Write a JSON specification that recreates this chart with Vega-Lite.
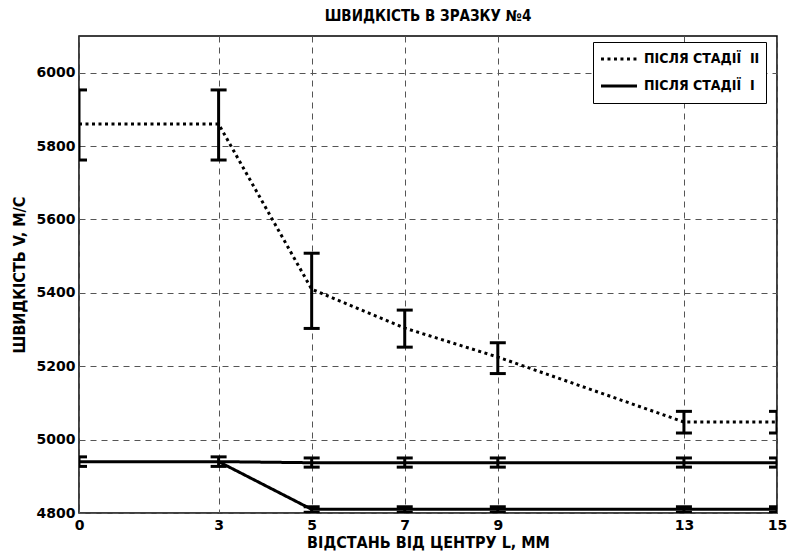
{
  "$schema": "https://vega.github.io/schema/vega-lite/v6.json",
  "width": 698,
  "height": 477,
  "autosize": {"type": "none"},
  "padding": {"left": 79, "top": 36, "right": 12, "bottom": 43},
  "background": "white",
  "title": {
    "text": "ШВИДКІСТЬ В ЗРАЗКУ №4",
    "font": "DejaVu Sans Condensed",
    "fontSize": 15,
    "fontWeight": "bold",
    "color": "black",
    "offset": 12,
    "anchor": "middle"
  },
  "config": {
    "view": {"stroke": "black", "strokeWidth": 1.5},
    "axis": {
      "labelFont": "DejaVu Sans",
      "labelFontSize": 14,
      "labelFontWeight": "bold",
      "labelColor": "black",
      "titleFont": "DejaVu Sans Condensed",
      "titleFontSize": 16,
      "titleFontWeight": "bold",
      "titleColor": "black",
      "gridColor": "#555555",
      "gridDash": [6, 5],
      "gridWidth": 1,
      "gridOpacity": 1,
      "ticks": false,
      "domain": false
    },
    "legend": {
      "labelFont": "DejaVu Sans Condensed",
      "labelFontSize": 14,
      "labelFontWeight": "bold",
      "labelColor": "black",
      "symbolType": "stroke",
      "symbolStrokeWidth": 3,
      "symbolStrokeColor": "black",
      "symbolSize": 1300,
      "clipHeight": 22,
      "padding": 6,
      "rowPadding": 5,
      "labelOffset": 5,
      "strokeColor": "black",
      "fillColor": "white",
      "cornerRadius": 0
    }
  },
  "datasets": {
    "lines": [
      {"x": 0, "v": 5860, "grp": "A", "series": "ПІСЛЯ СТАДІЇ\u00a0 II"},
      {"x": 3, "v": 5860, "grp": "A", "series": "ПІСЛЯ СТАДІЇ\u00a0 II"},
      {"x": 5, "v": 5410, "grp": "A", "series": "ПІСЛЯ СТАДІЇ\u00a0 II"},
      {"x": 7, "v": 5304, "grp": "A", "series": "ПІСЛЯ СТАДІЇ\u00a0 II"},
      {"x": 9, "v": 5225, "grp": "A", "series": "ПІСЛЯ СТАДІЇ\u00a0 II"},
      {"x": 13, "v": 5048, "grp": "A", "series": "ПІСЛЯ СТАДІЇ\u00a0 II"},
      {"x": 15, "v": 5048, "grp": "A", "series": "ПІСЛЯ СТАДІЇ\u00a0 II"},
      {"x": 0, "v": 4940, "grp": "B", "series": "ПІСЛЯ СТАДІЇ\u00a0 I"},
      {"x": 3, "v": 4940, "grp": "B", "series": "ПІСЛЯ СТАДІЇ\u00a0 I"},
      {"x": 5, "v": 4937, "grp": "B", "series": "ПІСЛЯ СТАДІЇ\u00a0 I"},
      {"x": 7, "v": 4937, "grp": "B", "series": "ПІСЛЯ СТАДІЇ\u00a0 I"},
      {"x": 9, "v": 4937, "grp": "B", "series": "ПІСЛЯ СТАДІЇ\u00a0 I"},
      {"x": 13, "v": 4937, "grp": "B", "series": "ПІСЛЯ СТАДІЇ\u00a0 I"},
      {"x": 15, "v": 4937, "grp": "B", "series": "ПІСЛЯ СТАДІЇ\u00a0 I"},
      {"x": 3, "v": 4940, "grp": "C", "series": "ПІСЛЯ СТАДІЇ\u00a0 I"},
      {"x": 5, "v": 4810, "grp": "C", "series": "ПІСЛЯ СТАДІЇ\u00a0 I"},
      {"x": 7, "v": 4810, "grp": "C", "series": "ПІСЛЯ СТАДІЇ\u00a0 I"},
      {"x": 9, "v": 4810, "grp": "C", "series": "ПІСЛЯ СТАДІЇ\u00a0 I"},
      {"x": 13, "v": 4810, "grp": "C", "series": "ПІСЛЯ СТАДІЇ\u00a0 I"},
      {"x": 15, "v": 4810, "grp": "C", "series": "ПІСЛЯ СТАДІЇ\u00a0 I"}
    ],
    "err": [
      {"x": 0, "lo": 5762, "hi": 5953},
      {"x": 3, "lo": 5762, "hi": 5953},
      {"x": 5, "lo": 5303, "hi": 5508},
      {"x": 7, "lo": 5252, "hi": 5353},
      {"x": 9, "lo": 5180, "hi": 5264},
      {"x": 13, "lo": 5018, "hi": 5077},
      {"x": 15, "lo": 5018, "hi": 5077},
      {"x": 0, "lo": 4927, "hi": 4953},
      {"x": 3, "lo": 4927, "hi": 4953},
      {"x": 5, "lo": 4925, "hi": 4950},
      {"x": 7, "lo": 4925, "hi": 4950},
      {"x": 9, "lo": 4925, "hi": 4950},
      {"x": 13, "lo": 4925, "hi": 4950},
      {"x": 15, "lo": 4925, "hi": 4950},
      {"x": 5, "lo": 4802, "hi": 4817},
      {"x": 7, "lo": 4802, "hi": 4817},
      {"x": 9, "lo": 4802, "hi": 4817},
      {"x": 13, "lo": 4802, "hi": 4817},
      {"x": 15, "lo": 4802, "hi": 4817}
    ]
  },
  "encoding": {
    "x": {
      "field": "x",
      "type": "quantitative",
      "scale": {"domain": [0, 15], "nice": false, "zero": false},
      "axis": {
        "values": [0, 3, 5, 7, 9, 13, 15],
        "title": "ВІДСТАНЬ ВІД ЦЕНТРУ L, ММ",
        "labelPadding": 5,
        "titlePadding": 2,
        "labelFlush": false
      }
    }
  },
  "layer": [
    {
      "data": {"name": "lines"},
      "mark": {"type": "line", "color": "black", "strokeWidth": 3, "clip": true},
      "encoding": {
        "y": {
          "field": "v",
          "type": "quantitative",
          "scale": {"domain": [4800, 6100], "nice": false, "zero": false},
          "axis": {
            "values": [4800, 5000, 5200, 5400, 5600, 5800, 6000],
            "format": "d",
            "title": "ШВИДКІСТЬ V, М/С",
            "labelPadding": 4,
            "titlePadding": 9
          }
        },
        "detail": {"field": "grp"},
        "strokeDash": {
          "field": "series",
          "type": "nominal",
          "scale": {
            "domain": ["ПІСЛЯ СТАДІЇ\u00a0 II", "ПІСЛЯ СТАДІЇ\u00a0 I"],
            "range": [[3, 3.5], [1, 0]]
          },
          "legend": {"orient": "none", "legendX": 514, "legendY": 6, "title": null}
        }
      }
    },
    {
      "data": {"name": "err"},
      "mark": {"type": "rule", "color": "black", "strokeWidth": 3, "clip": true},
      "encoding": {
        "y": {"field": "lo", "type": "quantitative"},
        "y2": {"field": "hi"}
      }
    },
    {
      "data": {"name": "err"},
      "mark": {"type": "tick", "orient": "horizontal", "color": "black", "size": 16, "thickness": 3, "opacity": 1, "clip": true},
      "encoding": {
        "y": {"field": "lo", "type": "quantitative"}
      }
    },
    {
      "data": {"name": "err"},
      "mark": {"type": "tick", "orient": "horizontal", "color": "black", "size": 16, "thickness": 3, "opacity": 1, "clip": true},
      "encoding": {
        "y": {"field": "hi", "type": "quantitative"}
      }
    }
  ]
}
